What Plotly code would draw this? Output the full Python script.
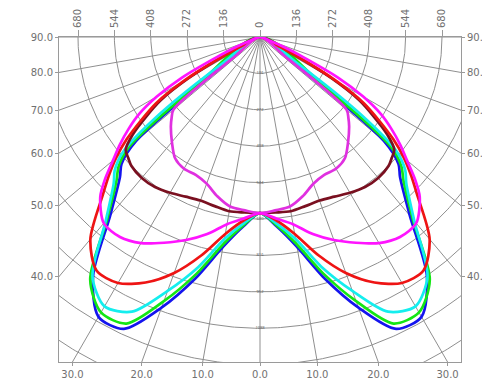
import numpy as np
import plotly.graph_objects as go

# ---------------- data (luminous intensity, cd, vs. gamma angle in degrees) ----------------
angles = [0, 5, 10, 15, 20, 25, 30, 35, 40, 45, 47.5, 50, 52.5, 55, 57.5, 60, 62.5, 65, 67.5, 70, 75, 80, 85, 90]

blue    = [658, 710, 796, 934, 1076, 1203, 1207, 1087, 871, 740, 702, 605, 150, 0, 0, 0, 0, 0, 0, 0, 0, 0, 0, 0]
green   = [658, 706, 785, 915, 1050, 1181, 1188, 1106, 889, 758, 717, 640, 300, 0, 0, 0, 0, 0, 0, 0, 0, 0, 0, 0]
cyan    = [658, 699, 766, 889, 1009, 1132, 1162, 1091, 897, 773, 736, 668, 470, 160, 0, 0, 0, 0, 0, 0, 0, 0, 0, 0]
maroon  = [658, 658, 661, 654, 650, 658, 672, 684, 687, 680, 668, 655, 600, 520, 440, 310, 140, 0, 0, 0, 0, 0, 0, 0]
red     = [658, 687, 747, 844, 938, 1012, 1061, 1065, 986, 829, 766, 702, 628, 542, 460, 330, 160, 35, 0, 0, 0, 0, 0, 0]
violet  = [658, 650, 643, 616, 583, 568, 568, 553, 512, 471, 448, 422, 112, 0, 0, 0, 0, 0, 0, 0, 0, 0, 0, 0]
magenta = [658, 680, 710, 762, 807, 848, 889, 912, 908, 844, 785, 717, 660, 600, 535, 445, 330, 180, 95, 37, 0, 0, 0, 0]

series_names  = ["C1", "C2", "C3", "C4", "C5", "C6", "C7"]
series_values = [blue, green, cyan, maroon, red, violet, magenta]
series_colors = ["#1414ee", "#14e614", "#14eeee", "#7a1020", "#ee1414", "#e030e0", "#ff14ff"]

# grid / axis definitions
circle_step = 136
circle_count = 10
spoke_angles = list(range(-90, 91, 10))
top_tick_values = [-680, -544, -408, -272, -136, 0, 136, 272, 408, 544, 680]
top_tick_text = ["680", "544", "408", "272", "136", "0", "136", "272", "408", "544", "680"]
side_angles = [90, 80, 70, 60, 50, 40]
side_text = ["90.0", "80.0", "70.0", "60.0", "50.0", "40.0"]
bottom_angles = [30, 20, 10, 0, -10, -20, -30]
bottom_text = ["30.0", "20.0", "10.0", "0.0", "10.0", "20.0", "30.0"]
x_half = 751
y_depth = 1214

# ---------------- figure ----------------
fig = go.Figure()
grid_color = "#8f8f8f"

for k in range(1, circle_count + 1):
    r = circle_step * k
    t = np.radians(np.linspace(-90, 90, 361))
    fig.add_trace(go.Scatter(x=-r * np.sin(t), y=-r * np.cos(t), mode="lines",
                             line=dict(color=grid_color, width=1), hoverinfo="skip"))
for a in spoke_angles:
    t = np.radians(a)
    R = 3000
    fig.add_trace(go.Scatter(x=[0, -R * np.sin(t)], y=[0, -R * np.cos(t)], mode="lines",
                             line=dict(color=grid_color, width=1), hoverinfo="skip"))

rad_vals = [circle_step * k for k in range(1, 9)]
fig.add_trace(go.Scatter(x=[0] * len(rad_vals), y=[-v for v in rad_vals], mode="text",
                         text=[str(v) for v in rad_vals],
                         textfont=dict(size=4, color="#555555"), hoverinfo="skip"))

ang = np.array(angles, dtype=float)
for name, vals, col in zip(series_names, series_values, series_colors):
    v = np.array(vals, dtype=float)
    nz = np.nonzero(v == 0)[0]
    end = nz[0] + 1 if len(nz) else len(v)
    a_half = ang[:end]
    v_half = v[:end]
    a_full = np.concatenate([-a_half[::-1], a_half[1:]])
    v_full = np.concatenate([v_half[::-1], v_half[1:]])
    t = np.radians(a_full)
    fig.add_trace(go.Scatter(x=-v_full * np.sin(t), y=-v_full * np.cos(t), mode="lines",
                             name=name, line=dict(color=col, width=2.7, shape="spline", smoothing=0.8),
                             hoverinfo="skip"))

side_vals = [0.0 if a == 90 else -x_half / np.tan(np.radians(a)) for a in side_angles]
bottom_vals = [-y_depth * np.tan(np.radians(a)) for a in bottom_angles]

tick_font = dict(family="DejaVu Sans, Liberation Sans, sans-serif", size=10, color="#707070")
common_axis = dict(showgrid=False, zeroline=False, showline=True, linecolor="#9a9a9a",
                   linewidth=1, ticks="outside", tickcolor="#9a9a9a", tickfont=tick_font,
                   automargin=False, fixedrange=True)

fig.update_layout(
    width=482, height=382,
    margin=dict(l=51, r=29, t=29, b=28, autoexpand=False),
    paper_bgcolor="white", plot_bgcolor="white",
    showlegend=False, hovermode=False,
    xaxis=dict(range=[-x_half, x_half], tickvals=bottom_vals, ticktext=bottom_text,
               ticklen=3, mirror=True, **common_axis),
    xaxis2=dict(range=[-x_half, x_half], overlaying="x", side="top", anchor="y",
                tickvals=top_tick_values, ticktext=top_tick_text, tickangle=-90,
                ticklen=6, **common_axis),
    yaxis=dict(range=[-y_depth, 0], tickvals=side_vals, ticktext=side_text,
               ticklen=3, mirror=True, **common_axis),
    yaxis2=dict(range=[-y_depth, 0], overlaying="y", side="right", anchor="x",
                tickvals=side_vals, ticktext=side_text, ticklen=3, **common_axis),
)
fig.add_trace(go.Scatter(x=[0], y=[0], xaxis="x2", yaxis="y2", mode="markers",
                         marker=dict(opacity=0), hoverinfo="skip"))

fig.write_html("out.html")
